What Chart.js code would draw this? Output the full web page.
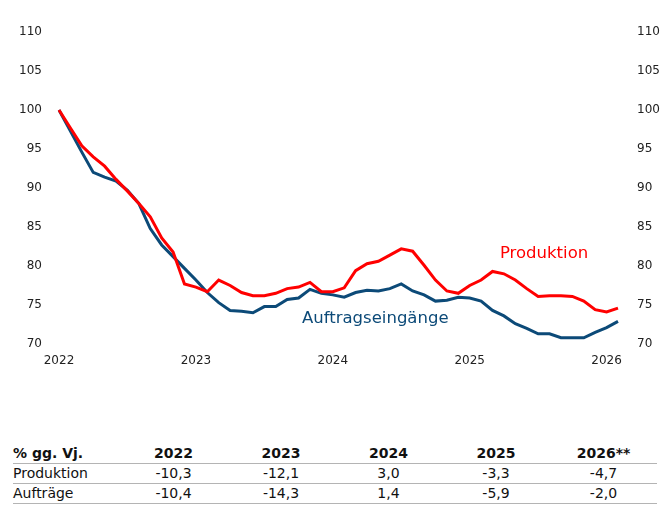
<!DOCTYPE html>
<html lang="de">
<head>
<meta charset="utf-8">
<script src="https://cdn.jsdelivr.net/npm/chart.js@4.4.1/dist/chart.umd.min.js"></script>
<style>
    body { margin: 0; background: #fff; font-family: "DejaVu Sans", sans-serif; }
    #wrap { position: relative; width: 670px; height: 509px; }
    #chart { position: absolute; left: 0; top: 2px; }
    table { position: absolute; left: 13px; top: 444px; border-collapse: collapse; font-size: 14px; color: #111; }
    td { height: 19px; padding: 0; text-align: center; width: 107.5px; border-bottom: 1.5px solid #b4b4b4; line-height: 19px; }
    td.first { text-align: left; width: 106.75px; }
    tr.head td { font-weight: bold; }
</style>
</head>
<body>
<div id="wrap">
    <canvas id="chart" width="670" height="380"></canvas>
    <table id="tbl"></table>
</div>
<script>
// monthly index, Jan 2022 = 100
var years = ['2022', '2023', '2024', '2025', '2026'];
var produktion = [100, 97.7, 95.4, 94.0, 92.8, 91.1, 89.6, 88.0, 86.3, 83.6, 81.8, 77.7,
    77.3, 76.7, 78.2, 77.5, 76.6, 76.2, 76.2, 76.5, 77.1, 77.3, 77.9, 76.7,
    76.7, 77.2, 79.4, 80.3, 80.6, 81.4, 82.2, 81.9, 80.1, 78.2, 76.8, 76.5,
    77.5, 78.2, 79.3, 79.0, 78.2, 77.1, 76.1, 76.2, 76.2, 76.1, 75.5, 74.4,
    74.1, 74.6];
var auftraege = [100, 97.3, 94.6, 92.0, 91.4, 90.9, 89.7, 88.0, 84.8, 82.7, 81.2, 79.7,
    78.2, 76.6, 75.3, 74.3, 74.2, 74.0, 74.8, 74.8, 75.7, 75.9, 77.0, 76.5,
    76.3, 76.0, 76.6, 76.9, 76.8, 77.1, 77.7, 76.8, 76.3, 75.5, 75.6, 76.0,
    75.9, 75.5, 74.3, 73.6, 72.6, 72.0, 71.3, 71.3, 70.8, 70.8, 70.8, 71.5,
    72.1, 72.9];
var yTicks = [70, 75, 80, 85, 90, 95, 100, 105, 110];

// table below the chart
var tableHead = ['% gg. Vj.', '2022', '2023', '2024', '2025', '2026**'];
var tableProd = ['Produktion', '-10,3', '-12,1', '3,0', '-3,3', '-4,7'];
var tableAuft = ['Aufträge', '-10,4', '-14,3', '1,4', '-5,9', '-2,0'];

var RED = '#ff0000';
var BLUE = '#0c4a78';

var labels = [];
for (var i = 0; i < produktion.length; i++) {
    var y = 2022 + Math.floor(i / 12);
    var m = (i % 12) + 1;
    labels.push(y + '-' + (m < 10 ? '0' + m : m));
}

function addRow(cells, cls) {
    var tr = document.createElement('tr');
    if (cls) tr.className = cls;
    cells.forEach(function (c, idx) {
        var td = document.createElement('td');
        if (idx === 0) td.className = 'first';
        td.textContent = c;
        tr.appendChild(td);
    });
    document.getElementById('tbl').appendChild(tr);
}
addRow(tableHead, 'head');
addRow(tableProd);
addRow(tableAuft);

// series names written next to the lines
var seriesLabels = {
    id: 'seriesLabels',
    afterDatasetsDraw: function (chart) {
        var ctx = chart.ctx;
        var xs = chart.scales.x, ys = chart.scales.y;
        ctx.save();
        ctx.font = '16.5px "DejaVu Sans"';
        ctx.textBaseline = 'middle';
        ctx.textAlign = 'left';
        ctx.fillStyle = RED;
        ctx.fillText('Produktion', xs.getPixelForValue(38.65), ys.getPixelForValue(81.6));
        ctx.fillStyle = BLUE;
        ctx.fillText('Auftragseingänge', xs.getPixelForValue(21.3), ys.getPixelForValue(73.3));
        ctx.restore();
    }
};

var tickFont = { family: 'DejaVu Sans', size: 12 };

new Chart(document.getElementById('chart').getContext('2d'), {
    type: 'line',
    data: {
        labels: labels,
        datasets: [{
            label: 'Produktion',
            data: produktion,
            borderColor: RED,
            borderWidth: 3,
            pointRadius: 0,
            tension: 0
        }, {
            label: 'Auftragseingänge',
            data: auftraege,
            borderColor: BLUE,
            borderWidth: 3,
            pointRadius: 0,
            tension: 0
        }]
    },
    options: {
        responsive: false,
        animation: false,
        devicePixelRatio: 1,
        layout: { padding: { top: 30, left: 0, right: 0, bottom: 0 } },
        plugins: {
            legend: { display: false },
            tooltip: { enabled: false }
        },
        scales: {
            x: {
                offset: false,
                grid: { display: false, drawTicks: false },
                border: { display: false },
                ticks: {
                    autoSkip: false,
                    maxRotation: 0,
                    padding: 10,
                    color: '#222',
                    font: tickFont,
                    callback: function (val, idx) {
                        var l = labels[idx];
                        return l.slice(5) === '01' && years.indexOf(l.slice(0, 4)) >= 0 ? l.slice(0, 4) : '';
                    }
                },
                afterFit: function (s) { s.height = 38; }
            },
            y: {
                position: 'left',
                min: 70,
                max: 110,
                grid: { display: false, drawTicks: false },
                border: { display: false },
                afterBuildTicks: function (s) { s.ticks = yTicks.map(function (v) { return { value: v }; }); },
                ticks: { padding: 17, color: '#222', font: tickFont },
                afterFit: function (s) { s.width = 59; }
            },
            y2: {
                position: 'right',
                min: 70,
                max: 110,
                grid: { display: false, drawTicks: false },
                border: { display: false },
                afterBuildTicks: function (s) { s.ticks = yTicks.map(function (v) { return { value: v }; }); },
                ticks: { padding: 19, color: '#222', font: tickFont },
                afterFit: function (s) { s.width = 52; }
            }
        }
    },
    plugins: [seriesLabels]
});
</script>
</body>
</html>
